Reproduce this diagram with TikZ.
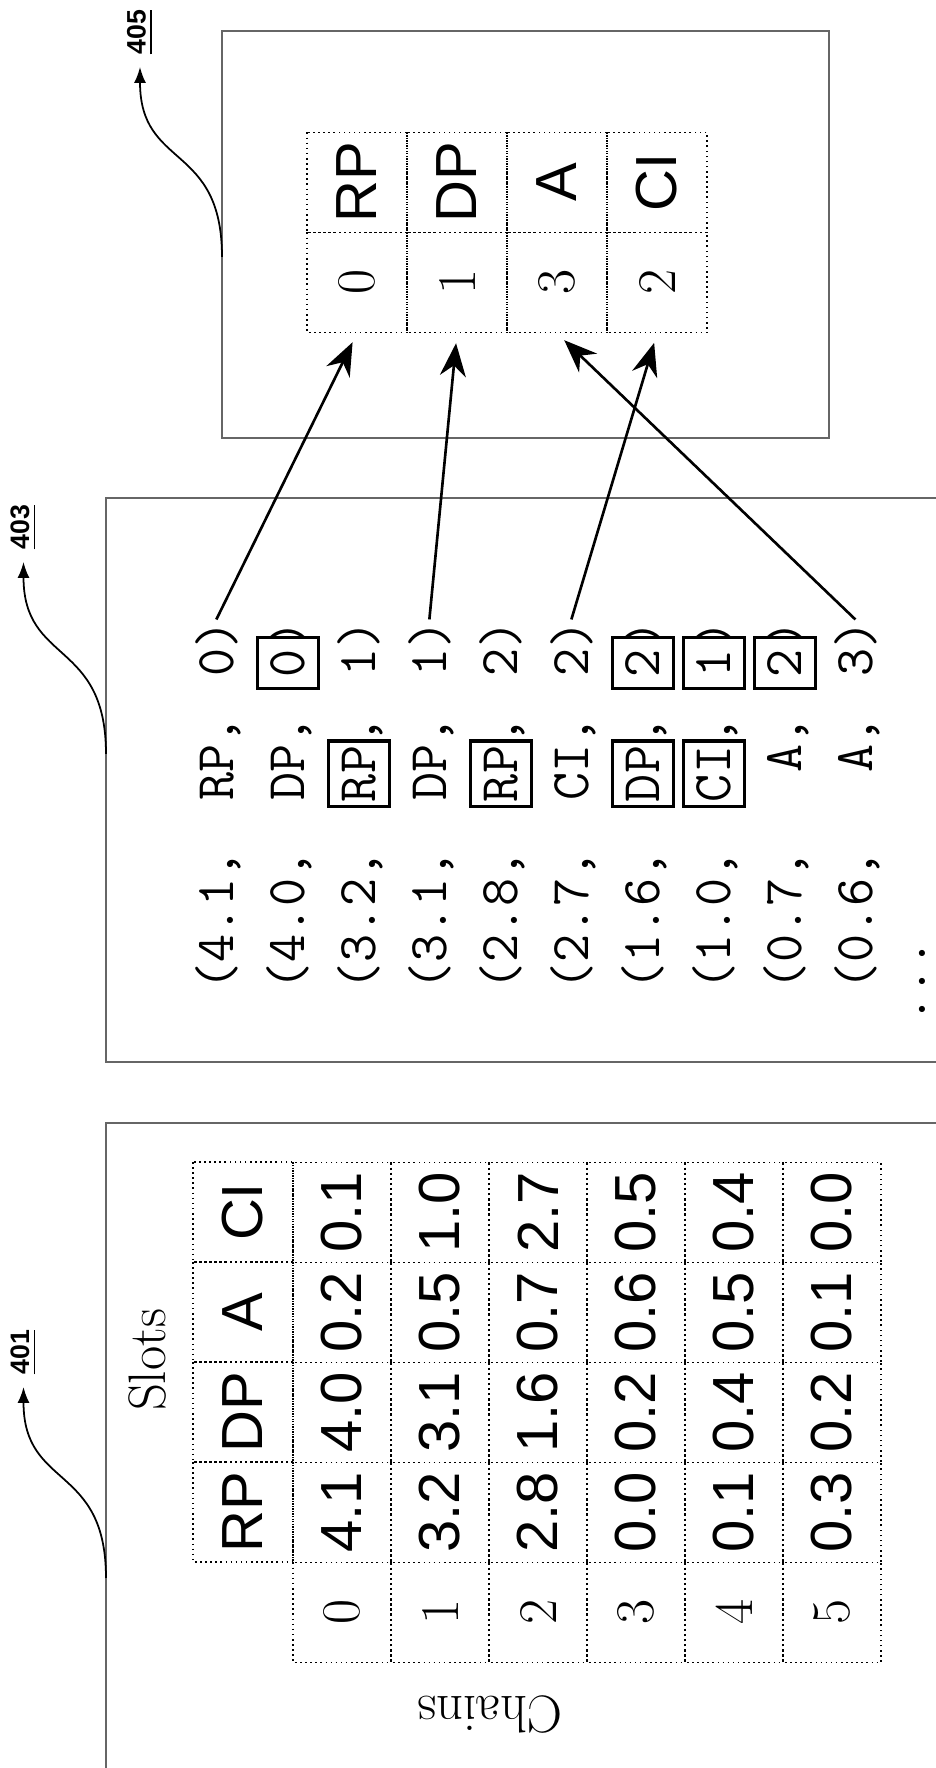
\documentclass[tikz,border=0pt]{standalone}
\usepackage{fontspec}
\newfontfamily\tabfont{Liberation Sans}
\newfontfamily\tagfont{Liberation Sans}
\usetikzlibrary{arrows.meta,positioning}

\tikzset{
  frame/.style={draw=black!60,line width=0.6pt},
  cell/.style={draw,densely dotted,line width=0.45pt,minimum width=1cm,minimum height=0.98cm,inner sep=0pt},
  head/.style={cell,minimum height=1cm,font=\tabfont\fontsize{16.5}{18}\selectfont},
  val/.style={cell,font=\tabfont\fontsize{16.5}{18}\selectfont},
  idx/.style={cell,font=\fontsize{15.5}{17}\selectfont},
  axis/.style={font=\fontsize{15}{17}\selectfont},
  tok/.style={inner sep=0pt,font=\ttfamily\fontsize{15.5}{17}\selectfont},
  picked/.style={tok,draw,solid,line width=1.1pt,fill=white,minimum width=0.51cm,minimum height=0.61cm,inner xsep=0.045cm},
  link/.style={-{Stealth[length=0.33cm,width=0.26cm]},line width=0.75pt,shorten >=0.1cm},
  leader/.style={-{Latex[length=0.16cm,width=0.12cm]},line width=0.5pt,shorten >=0.12cm},
  tag/.style={inner sep=0pt,anchor=west,font=\tagfont\bfseries\fontsize{7.6}{9}\selectfont}
}

\begin{document}
\begin{tikzpicture}[rotate=90,transform shape,node distance=1cm]
  \useasboundingbox (0,0) rectangle (17.68,-9.36);

  % panels
  \draw[frame] (-0.5,-1.06) rectangle (6.45,-10);
  \draw[frame] (7.06,-1.06) rectangle (12.70,-10);
  \draw[frame] (13.30,-2.22) rectangle (17.37,-8.29);

  % reference numerals
  \coordinate (s401) at (1.90,-1.06);
  \coordinate (s403) at (10.14,-1.06);
  \coordinate (s405) at (15.11,-2.22);
  \node[tag] (l401) at (3.93,-0.235) {\underline{401}};
  \node[tag] (l403) at (12.18,-0.235) {\underline{403}};
  \node[tag] (l405) at (17.13,-1.40) {\underline{405}};
  \draw[leader] (s401) .. controls +(1.15,0) and +(-1.15,0) .. (l401.west);
  \draw[leader] (s403) .. controls +(1.15,0) and +(-1.15,0) .. (l403.west);
  \draw[leader] (s405) .. controls +(1.15,0) and +(-1.15,0) .. (l405.west);

  % chains x slots table
  \node[axis] (slots) at (4.08,-1.47) {Slots};
  \node[axis,rotate=90] (chains) at (0.53,-4.90) {Chains};
  \node[head] (hRP) at (2.56,-2.43) {RP};
  \node[head] (hDP) [right of=hRP] {DP};
  \node[head] (hA)  [right of=hDP] {A};
  \node[head] (hCI) [right of=hA]  {CI};
  \foreach \r/\a/\b/\c/\d in {0/4.1/4.0/0.2/0.1, 1/3.2/3.1/0.5/1.0, 2/2.8/1.6/0.7/2.7,
                              3/0.0/0.2/0.6/0.5, 4/0.1/0.4/0.5/0.4, 5/0.3/0.2/0.1/0.0} {
    \node[idx] (c\r) at (1.555,{-3.42-0.98*\r}) {\r};
    \node[val] (c\r-RP) [right of=c\r]    {\a};
    \node[val] (c\r-DP) [right of=c\r-RP] {\b};
    \node[val] (c\r-A)  [right of=c\r-DP] {\c};
    \node[val] (c\r-CI) [right of=c\r-A]  {\d};
  }

  % sorted list
  \foreach \n/\v/\name/\i in {1/4.1/RP/0, 2/4.0/DP/0, 3/3.2/RP/1, 4/3.1/DP/1, 5/2.8/RP/2,
                              6/2.7/CI/2, 7/1.6/DP/2, 8/1.0/CI/1, 9/0.7/A/2, 10/0.6/A/3} {
    \node[tok,anchor=base west] (v\n) at (7.77,{-1.62-0.71*\n}) {(\v,};
    \node[tok,anchor=base east] (n\n) at (10.52,{-1.62-0.71*\n}) {\name,};
    \node[tok,anchor=base west] (i\n) at (10.91,{-1.62-0.71*\n}) {\i)};
  }
  \node[tok,anchor=base west] (more) at (7.44,-9.25) {...};
  \node[picked] (k2i) at (11.05,-2.88) {0};
  \node[picked] (k3n) at (9.94,-3.59) {RP};
  \node[picked] (k5n) at (9.94,-5.01) {RP};
  \node[picked] (k7n) at (9.94,-6.43) {DP};
  \node[picked] (k7i) at (11.05,-6.43) {2};
  \node[picked] (k8n) at (9.94,-7.14) {CI};
  \node[picked] (k8i) at (11.05,-7.14) {1};
  \node[picked] (k9i) at (11.05,-7.85) {2};

  % slot order
  \node[idx,minimum height=1cm] (q0) at (14.855,-3.57) {0};
  \node[head] (p0) [right of=q0] {RP};
  \node[idx,minimum height=1cm] (q1) [below of=q0] {1};
  \node[head] (p1) [right of=q1] {DP};
  \node[idx,minimum height=1cm] (q3) [below of=q1] {3};
  \node[head] (p3) [right of=q3] {A};
  \node[idx,minimum height=1cm] (q2) [below of=q3] {2};
  \node[head] (p2) [right of=q2] {CI};

  \draw[link] (i1.east)  -- (q0.west);
  \draw[link] (i4.east)  -- (q1.west);
  \draw[link] (i6.east)  -- (q2.west);
  \draw[link] (i10.east) -- (q3.west);
\end{tikzpicture}
\end{document}
